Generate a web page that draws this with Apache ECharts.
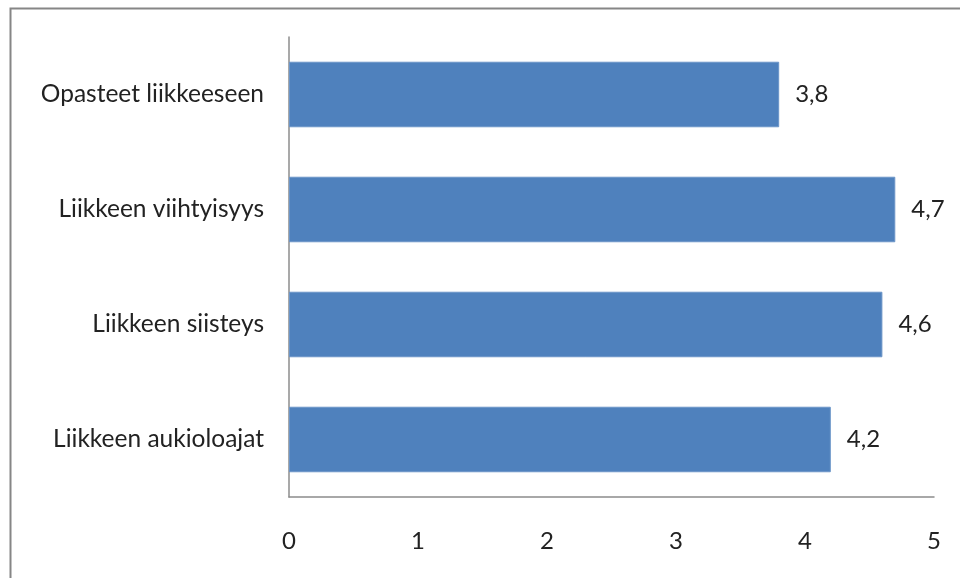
<!DOCTYPE html>
<html>
<head>
<meta charset="utf-8">
<script src="https://cdn.jsdelivr.net/npm/echarts@6/dist/echarts.min.js"></script>
<style>
  html, body { margin: 0; padding: 0; background: #fff; }
  #chart { width: 960px; height: 578px; }
</style>
</head>
<body>
<div id="chart"></div>
<script>
// kategoriat alhaalta ylös
var categories = ['Liikkeen aukioloajat', 'Liikkeen siisteys', 'Liikkeen viihtyisyys', 'Opasteet liikkeeseen'];
var values = [4.2, 4.6, 4.7, 3.8];
var xTicks = [0, 1, 2, 3, 4, 5];

var fontFam = 'Lato, "Open Sans", sans-serif';

var chart = echarts.init(document.getElementById('chart'));
var option = {
    animation: false,
    backgroundColor: '#fff',
    graphic: [{
        type: 'rect',
        left: 8,
        top: 6,
        shape: { width: 1100, height: 700 },
        style: { fill: 'none', stroke: '#868686', lineWidth: 2 },
        silent: true
    }],
    grid: {
        left: 289,
        right: 26,
        top: 37,
        bottom: 81,
        containLabel: false
    },
    xAxis: {
        type: 'value',
        min: xTicks[0],
        max: xTicks[xTicks.length - 1],
        interval: 1,
        splitLine: { show: false },
        axisLine: { show: true, lineStyle: { color: '#8c8c8c', width: 1.5 } },
        axisTick: { show: false },
        axisLabel: {
            color: '#222',
            fontSize: 24,
            fontFamily: fontFam,
            margin: 32
        }
    },
    yAxis: {
        type: 'category',
        data: categories,
        axisLine: { show: true, lineStyle: { color: '#8c8c8c', width: 1.5 } },
        axisTick: { show: false },
        axisLabel: {
            color: '#222',
            fontSize: 24.5,
            fontFamily: fontFam,
            margin: 25
        }
    },
    series: [{
        type: 'bar',
        data: values,
        barCategoryGap: '43%',
        itemStyle: { color: '#4f81bd', borderColor: '#6b95c8', borderWidth: 1 },
        label: {
            show: true,
            position: 'right',
            distance: 16,
            color: '#222',
            fontSize: 24,
            fontFamily: fontFam,
            formatter: function (p) { return String(p.value).replace('.', ','); }
        }
    }]
};
chart.setOption(option);
</script>
</body>
</html>
